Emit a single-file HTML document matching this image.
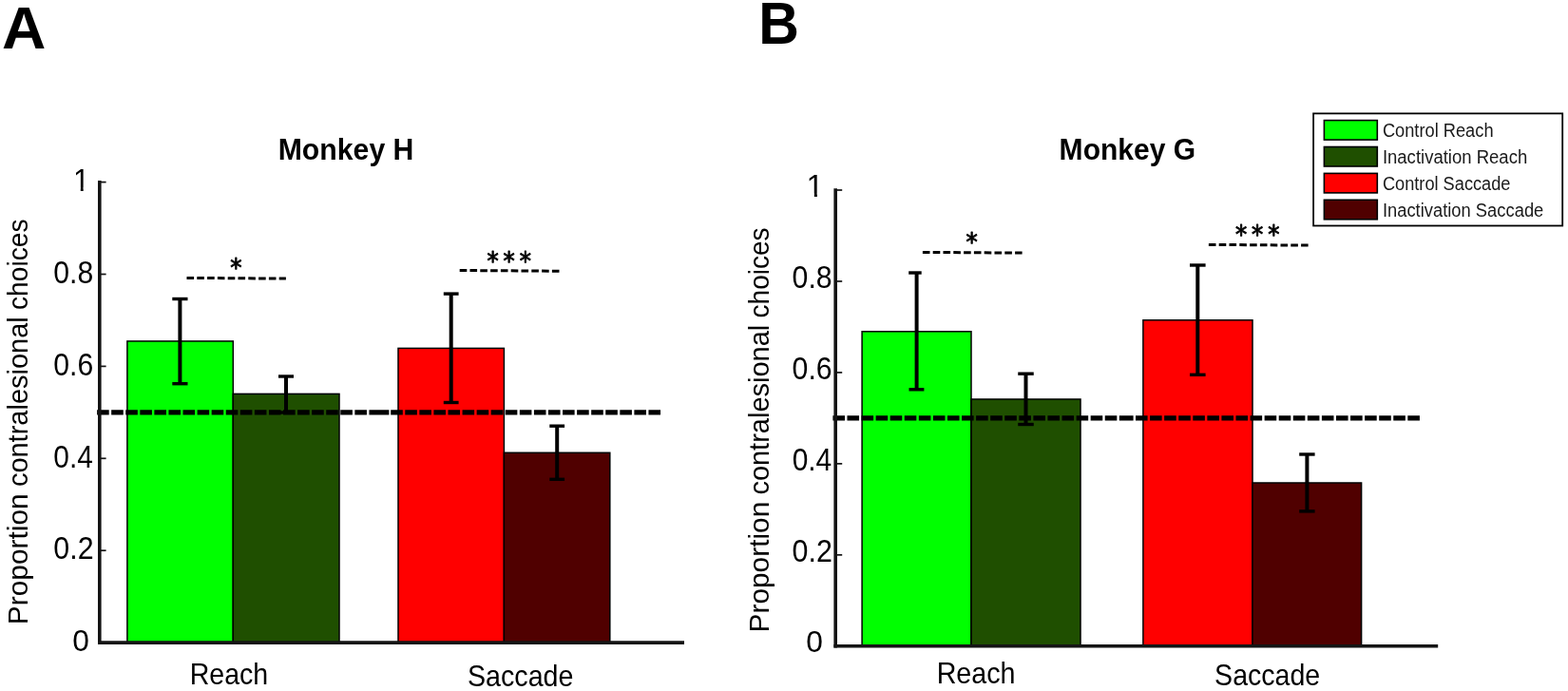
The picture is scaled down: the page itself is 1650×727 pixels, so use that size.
<!DOCTYPE html>
<html><head><meta charset="utf-8"><title>Figure</title>
<style>html,body{margin:0;padding:0;background:#fff;overflow:hidden}svg{display:block}</style>
</head><body>
<svg width="1650" height="727" viewBox="0 0 1650 727">
<rect x="0" y="0" width="1650" height="727" fill="#fff"/>
<rect x="133.90" y="358.95" width="111.40" height="317.15" fill="#00ff00" stroke="#000" stroke-width="1.5"/>
<rect x="245.30" y="414.40" width="111.70" height="261.70" fill="#1f4f00" stroke="#000" stroke-width="1.5"/>
<rect x="419.00" y="366.40" width="111.40" height="309.70" fill="#ff0000" stroke="#000" stroke-width="1.5"/>
<rect x="530.40" y="476.30" width="111.40" height="199.80" fill="#500000" stroke="#000" stroke-width="1.5"/>
<path fill="#000" d="M102.10 431.30H114.70V436.60H102.10ZM117.17 431.30H129.77V436.60H117.17ZM132.24 431.30H144.84V436.60H132.24ZM147.31 431.30H159.91V436.60H147.31ZM162.38 431.30H174.98V436.60H162.38ZM177.45 431.30H190.05V436.60H177.45ZM192.52 431.30H205.12V436.60H192.52ZM207.59 431.30H220.19V436.60H207.59ZM222.66 431.30H235.26V436.60H222.66ZM237.73 431.30H250.33V436.60H237.73ZM252.80 431.30H265.40V436.60H252.80ZM267.87 431.30H280.47V436.60H267.87ZM282.94 431.30H295.54V436.60H282.94ZM298.01 431.30H310.61V436.60H298.01ZM313.08 431.30H325.68V436.60H313.08ZM328.15 431.30H340.75V436.60H328.15ZM343.22 431.30H355.82V436.60H343.22ZM358.29 431.30H370.89V436.60H358.29ZM373.36 431.30H385.96V436.60H373.36ZM388.43 431.30H409.40V436.60H388.43ZM411.20 431.30H423.80V436.60H411.20ZM426.27 431.30H438.87V436.60H426.27ZM441.34 431.30H453.94V436.60H441.34ZM456.41 431.30H469.01V436.60H456.41ZM471.48 431.30H484.08V436.60H471.48ZM486.55 431.30H499.15V436.60H486.55ZM501.62 431.30H514.22V436.60H501.62ZM516.69 431.30H529.29V436.60H516.69ZM531.76 431.30H544.36V436.60H531.76ZM546.83 431.30H559.43V436.60H546.83ZM561.90 431.30H574.50V436.60H561.90ZM576.97 431.30H589.57V436.60H576.97ZM592.04 431.30H604.64V436.60H592.04ZM607.11 431.30H619.71V436.60H607.11ZM622.18 431.30H634.78V436.60H622.18ZM637.25 431.30H649.85V436.60H637.25ZM652.32 431.30H664.92V436.60H652.32ZM667.39 431.30H679.99V436.60H667.39ZM682.46 431.30H695.06V436.60H682.46Z"/>
<line x1="189.40" y1="314.50" x2="189.40" y2="403.70" stroke="#000" stroke-width="4.0" />
<line x1="181.30" y1="314.50" x2="197.50" y2="314.50" stroke="#000" stroke-width="3.4" />
<line x1="181.30" y1="403.70" x2="197.50" y2="403.70" stroke="#000" stroke-width="3.4" />
<line x1="301.00" y1="396.00" x2="301.00" y2="434.00" stroke="#000" stroke-width="4.0" />
<line x1="293.00" y1="396.00" x2="309.00" y2="396.00" stroke="#000" stroke-width="3.4" />
<line x1="293.00" y1="434.00" x2="309.00" y2="434.00" stroke="#000" stroke-width="3.4" />
<line x1="474.70" y1="309.10" x2="474.70" y2="423.50" stroke="#000" stroke-width="4.0" />
<line x1="466.80" y1="309.10" x2="482.60" y2="309.10" stroke="#000" stroke-width="3.4" />
<line x1="466.80" y1="423.50" x2="482.60" y2="423.50" stroke="#000" stroke-width="3.4" />
<line x1="586.20" y1="448.20" x2="586.20" y2="504.30" stroke="#000" stroke-width="4.0" />
<line x1="578.30" y1="448.20" x2="594.10" y2="448.20" stroke="#000" stroke-width="3.4" />
<line x1="578.30" y1="504.30" x2="594.10" y2="504.30" stroke="#000" stroke-width="3.4" />
<line x1="104.80" y1="190.00" x2="104.80" y2="678.00" stroke="#141414" stroke-width="3.6" />
<line x1="103.00" y1="676.10" x2="720.00" y2="676.10" stroke="#141414" stroke-width="3.6" />
<line x1="106.00" y1="579.20" x2="111.60" y2="579.20" stroke="#141414" stroke-width="1.7" />
<line x1="106.00" y1="482.30" x2="111.60" y2="482.30" stroke="#141414" stroke-width="1.7" />
<line x1="106.00" y1="385.40" x2="111.60" y2="385.40" stroke="#141414" stroke-width="1.7" />
<line x1="106.00" y1="288.50" x2="111.60" y2="288.50" stroke="#141414" stroke-width="1.7" />
<line x1="106.00" y1="191.60" x2="111.60" y2="191.60" stroke="#141414" stroke-width="1.7" />
<line x1="196.50" y1="292.40" x2="300.90" y2="293.10" stroke="#000" stroke-width="3.0" stroke-dasharray="7.6 3.2"/>
<line x1="483.70" y1="284.50" x2="588.50" y2="285.20" stroke="#000" stroke-width="3.0" stroke-dasharray="7.6 3.2"/>
<text x="242.24" y="290.55" font-size="25.88" font-family='"DejaVu Sans", sans-serif' stroke="#000" stroke-width="0.9" stroke-linejoin="round" textLength="12.22" lengthAdjust="spacingAndGlyphs">*</text>
<text transform="scale(0.9442,1)" y="283.75" font-size="25.88" font-family='"DejaVu Sans", sans-serif' stroke="#000" stroke-width="0.9" stroke-linejoin="round"><tspan x="542.81">*</tspan><tspan x="560.92">*</tspan><tspan x="579.03">*</tspan></text>
<rect x="907.10" y="348.80" width="114.90" height="331.00" fill="#00ff00" stroke="#000" stroke-width="1.5"/>
<rect x="1022.00" y="420.00" width="115.00" height="259.80" fill="#1f4f00" stroke="#000" stroke-width="1.5"/>
<rect x="1202.90" y="336.80" width="115.10" height="343.00" fill="#ff0000" stroke="#000" stroke-width="1.5"/>
<rect x="1318.00" y="508.00" width="114.60" height="171.80" fill="#500000" stroke="#000" stroke-width="1.5"/>
<path fill="#000" d="M876.40 437.30H889.00V442.60H876.40ZM891.47 437.30H904.07V442.60H891.47ZM906.54 437.30H919.14V442.60H906.54ZM921.61 437.30H934.21V442.60H921.61ZM936.68 437.30H949.28V442.60H936.68ZM951.75 437.30H964.35V442.60H951.75ZM966.82 437.30H979.42V442.60H966.82ZM981.89 437.30H994.49V442.60H981.89ZM996.96 437.30H1009.56V442.60H996.96ZM1012.03 437.30H1024.63V442.60H1012.03ZM1027.10 437.30H1039.70V442.60H1027.10ZM1042.17 437.30H1054.77V442.60H1042.17ZM1057.24 437.30H1069.84V442.60H1057.24ZM1072.31 437.30H1084.91V442.60H1072.31ZM1087.38 437.30H1099.98V442.60H1087.38ZM1102.45 437.30H1115.05V442.60H1102.45ZM1117.52 437.30H1130.12V442.60H1117.52ZM1132.59 437.30H1145.19V442.60H1132.59ZM1147.66 437.30H1160.26V442.60H1147.66ZM1162.73 437.30H1175.33V442.60H1162.73ZM1177.80 437.30H1192.60V442.60H1177.80ZM1195.00 437.30H1207.60V442.60H1195.00ZM1210.07 437.30H1222.67V442.60H1210.07ZM1225.14 437.30H1237.74V442.60H1225.14ZM1240.21 437.30H1252.81V442.60H1240.21ZM1255.28 437.30H1267.88V442.60H1255.28ZM1270.35 437.30H1282.95V442.60H1270.35ZM1285.42 437.30H1298.02V442.60H1285.42ZM1300.49 437.30H1313.09V442.60H1300.49ZM1315.56 437.30H1328.16V442.60H1315.56ZM1330.63 437.30H1343.23V442.60H1330.63ZM1345.70 437.30H1358.30V442.60H1345.70ZM1360.77 437.30H1373.37V442.60H1360.77ZM1375.84 437.30H1388.44V442.60H1375.84ZM1390.91 437.30H1403.51V442.60H1390.91ZM1405.98 437.30H1418.58V442.60H1405.98ZM1421.05 437.30H1433.65V442.60H1421.05ZM1436.12 437.30H1448.72V442.60H1436.12ZM1451.19 437.30H1463.79V442.60H1451.19ZM1466.26 437.30H1478.86V442.60H1466.26ZM1481.33 437.30H1493.93V442.60H1481.33Z"/>
<line x1="964.60" y1="287.00" x2="964.60" y2="409.80" stroke="#000" stroke-width="4.0" />
<line x1="956.20" y1="287.00" x2="969.70" y2="287.00" stroke="#000" stroke-width="3.4" />
<line x1="956.50" y1="409.80" x2="972.40" y2="409.80" stroke="#000" stroke-width="3.4" />
<line x1="1079.50" y1="393.20" x2="1079.50" y2="446.50" stroke="#000" stroke-width="4.0" />
<line x1="1071.25" y1="393.20" x2="1087.75" y2="393.20" stroke="#000" stroke-width="3.4" />
<line x1="1071.25" y1="446.50" x2="1087.75" y2="446.50" stroke="#000" stroke-width="3.4" />
<line x1="1260.30" y1="279.00" x2="1260.30" y2="394.30" stroke="#000" stroke-width="4.0" />
<line x1="1252.00" y1="279.00" x2="1268.60" y2="279.00" stroke="#000" stroke-width="3.4" />
<line x1="1252.00" y1="394.30" x2="1268.60" y2="394.30" stroke="#000" stroke-width="3.4" />
<line x1="1375.40" y1="478.00" x2="1375.40" y2="537.90" stroke="#000" stroke-width="4.0" />
<line x1="1367.20" y1="478.00" x2="1383.60" y2="478.00" stroke="#000" stroke-width="3.4" />
<line x1="1367.20" y1="537.90" x2="1383.60" y2="537.90" stroke="#000" stroke-width="3.4" />
<line x1="879.20" y1="198.20" x2="879.20" y2="681.50" stroke="#141414" stroke-width="3.6" />
<line x1="877.40" y1="679.80" x2="1513.20" y2="679.80" stroke="#141414" stroke-width="3.5" />
<line x1="881.00" y1="583.84" x2="886.20" y2="583.84" stroke="#141414" stroke-width="1.7" />
<line x1="881.00" y1="487.88" x2="886.20" y2="487.88" stroke="#141414" stroke-width="1.7" />
<line x1="881.00" y1="391.92" x2="886.20" y2="391.92" stroke="#141414" stroke-width="1.7" />
<line x1="881.00" y1="295.96" x2="886.20" y2="295.96" stroke="#141414" stroke-width="1.7" />
<line x1="881.00" y1="200.00" x2="886.20" y2="200.00" stroke="#141414" stroke-width="1.7" />
<line x1="970.90" y1="265.40" x2="1075.60" y2="266.10" stroke="#000" stroke-width="3.0" stroke-dasharray="7.6 3.2"/>
<line x1="1271.90" y1="257.40" x2="1376.60" y2="258.10" stroke="#000" stroke-width="3.0" stroke-dasharray="7.6 3.2"/>
<text x="1016.44" y="263.75" font-size="25.88" font-family='"DejaVu Sans", sans-serif' stroke="#000" stroke-width="0.9" stroke-linejoin="round" textLength="12.22" lengthAdjust="spacingAndGlyphs">*</text>
<text transform="scale(0.9442,1)" y="255.55" font-size="25.88" font-family='"DejaVu Sans", sans-serif' stroke="#000" stroke-width="0.9" stroke-linejoin="round"><tspan x="1376.81">*</tspan><tspan x="1394.92">*</tspan><tspan x="1413.03">*</tspan></text>
<rect x="1382.10" y="119.40" width="262.10" height="118.10" fill="#fff" stroke="#000" stroke-width="1.8"/>
<rect x="1393.40" y="126.60" width="55.90" height="20.50" fill="#00ff00" stroke="#000" stroke-width="1.6"/>
<text x="1454.89" y="144.20" font-size="19.33" font-weight="normal" font-family='"Liberation Sans", sans-serif' fill="#1a1a1a" textLength="116.68" lengthAdjust="spacingAndGlyphs">Control Reach</text>
<rect x="1393.40" y="154.50" width="55.90" height="20.50" fill="#1f4f00" stroke="#000" stroke-width="1.6"/>
<text x="1454.90" y="172.10" font-size="19.33" font-weight="normal" font-family='"Liberation Sans", sans-serif' fill="#1a1a1a" textLength="152.29" lengthAdjust="spacingAndGlyphs">Inactivation Reach</text>
<rect x="1393.40" y="182.40" width="55.90" height="20.50" fill="#ff0000" stroke="#000" stroke-width="1.6"/>
<text x="1454.89" y="200.00" font-size="19.33" font-weight="normal" font-family='"Liberation Sans", sans-serif' fill="#1a1a1a" textLength="134.61" lengthAdjust="spacingAndGlyphs">Control Saccade</text>
<rect x="1393.40" y="210.30" width="55.90" height="20.50" fill="#500000" stroke="#000" stroke-width="1.6"/>
<text x="1454.91" y="227.90" font-size="19.33" font-weight="normal" font-family='"Liberation Sans", sans-serif' fill="#1a1a1a" textLength="169.40" lengthAdjust="spacingAndGlyphs">Inactivation Saccade</text>
<text x="1.96" y="51.30" font-size="63.23" font-weight="bold" font-family='"Liberation Sans", sans-serif' fill="#000" textLength="46.32" lengthAdjust="spacingAndGlyphs">A</text>
<text x="798.30" y="45.80" font-size="62.35" font-weight="bold" font-family='"Liberation Sans", sans-serif' fill="#000" textLength="42.67" lengthAdjust="spacingAndGlyphs">B</text>
<text x="292.71" y="168.00" font-size="31.10" font-weight="bold" font-family='"Liberation Sans", sans-serif' fill="#000" textLength="142.72" lengthAdjust="spacingAndGlyphs">Monkey H</text>
<text x="1114.62" y="168.00" font-size="31.10" font-weight="bold" font-family='"Liberation Sans", sans-serif' fill="#000" textLength="143.54" lengthAdjust="spacingAndGlyphs">Monkey G</text>
<text transform="translate(29.00,0) rotate(-90)" y="0" font-size="29.94" font-family='"Liberation Sans", sans-serif' fill="#000"><tspan x="-657.15" textLength="137.86" lengthAdjust="spacingAndGlyphs">Proportion</tspan> <tspan x="-512.12" textLength="178.84" lengthAdjust="spacingAndGlyphs">contralesional</tspan> <tspan x="-325.98" textLength="95.49" lengthAdjust="spacingAndGlyphs">choices</tspan></text>
<text transform="translate(808.70,0) rotate(-90)" y="0" font-size="30.09" font-family='"Liberation Sans", sans-serif' fill="#000"><tspan x="-665.45" textLength="137.75" lengthAdjust="spacingAndGlyphs">Proportion</tspan> <tspan x="-520.62" textLength="178.84" lengthAdjust="spacingAndGlyphs">contralesional</tspan> <tspan x="-334.48" textLength="95.08" lengthAdjust="spacingAndGlyphs">choices</tspan></text>
<text x="199.66" y="720.30" font-size="30.96" font-weight="normal" font-family='"Liberation Sans", sans-serif' fill="#000" textLength="82.48" lengthAdjust="spacingAndGlyphs">Reach</text>
<text x="491.91" y="721.90" font-size="30.96" font-weight="normal" font-family='"Liberation Sans", sans-serif' fill="#000" textLength="111.57" lengthAdjust="spacingAndGlyphs">Saccade</text>
<text x="985.65" y="718.70" font-size="31.25" font-weight="normal" font-family='"Liberation Sans", sans-serif' fill="#000" textLength="82.91" lengthAdjust="spacingAndGlyphs">Reach</text>
<text x="1278.11" y="721.00" font-size="30.96" font-weight="normal" font-family='"Liberation Sans", sans-serif' fill="#000" textLength="111.16" lengthAdjust="spacingAndGlyphs">Saccade</text>
<text x="56.32" y="588.47" font-size="33.05" font-weight="normal" font-family='"Liberation Sans", sans-serif' fill="#000" textLength="42.21" lengthAdjust="spacingAndGlyphs">0.2</text>
<text x="56.33" y="491.57" font-size="33.05" font-weight="normal" font-family='"Liberation Sans", sans-serif' fill="#000" textLength="41.54" lengthAdjust="spacingAndGlyphs">0.4</text>
<text x="56.32" y="394.67" font-size="33.05" font-weight="normal" font-family='"Liberation Sans", sans-serif' fill="#000" textLength="41.98" lengthAdjust="spacingAndGlyphs">0.6</text>
<text x="56.32" y="297.77" font-size="33.05" font-weight="normal" font-family='"Liberation Sans", sans-serif' fill="#000" textLength="41.98" lengthAdjust="spacingAndGlyphs">0.8</text>
<clipPath id="c1A"><rect x="72.00" y="173.50" width="27.39" height="23.90"/><rect x="84.79" y="196.90" width="2.88" height="6.40"/></clipPath>
<text x="77.00" y="200.80" font-size="32.41" font-family='"Liberation Sans", sans-serif' fill="#000" textLength="17.39" lengthAdjust="spacingAndGlyphs" clip-path="url(#c1A)">1</text>
<text x="76.16" y="685.18" font-size="31.92" font-weight="normal" font-family='"Liberation Sans", sans-serif' fill="#000" textLength="17.65" lengthAdjust="spacingAndGlyphs">0</text>
<text x="833.61" y="590.81" font-size="33.19" font-weight="normal" font-family='"Liberation Sans", sans-serif' fill="#000" textLength="42.31" lengthAdjust="spacingAndGlyphs">0.2</text>
<text x="833.63" y="494.85" font-size="33.19" font-weight="normal" font-family='"Liberation Sans", sans-serif' fill="#000" textLength="41.64" lengthAdjust="spacingAndGlyphs">0.4</text>
<text x="833.62" y="398.89" font-size="33.19" font-weight="normal" font-family='"Liberation Sans", sans-serif' fill="#000" textLength="42.09" lengthAdjust="spacingAndGlyphs">0.6</text>
<text x="833.62" y="302.93" font-size="33.19" font-weight="normal" font-family='"Liberation Sans", sans-serif' fill="#000" textLength="42.09" lengthAdjust="spacingAndGlyphs">0.8</text>
<clipPath id="c1B"><rect x="843.64" y="179.70" width="28.30" height="23.90"/><rect x="856.84" y="203.10" width="3.03" height="6.40"/></clipPath>
<text x="848.64" y="207.00" font-size="32.41" font-family='"Liberation Sans", sans-serif' fill="#000" textLength="18.30" lengthAdjust="spacingAndGlyphs" clip-path="url(#c1B)">1</text>
<text x="848.36" y="686.28" font-size="31.78" font-weight="normal" font-family='"Liberation Sans", sans-serif' fill="#000" textLength="17.65" lengthAdjust="spacingAndGlyphs">0</text>
</svg>
</body></html>
